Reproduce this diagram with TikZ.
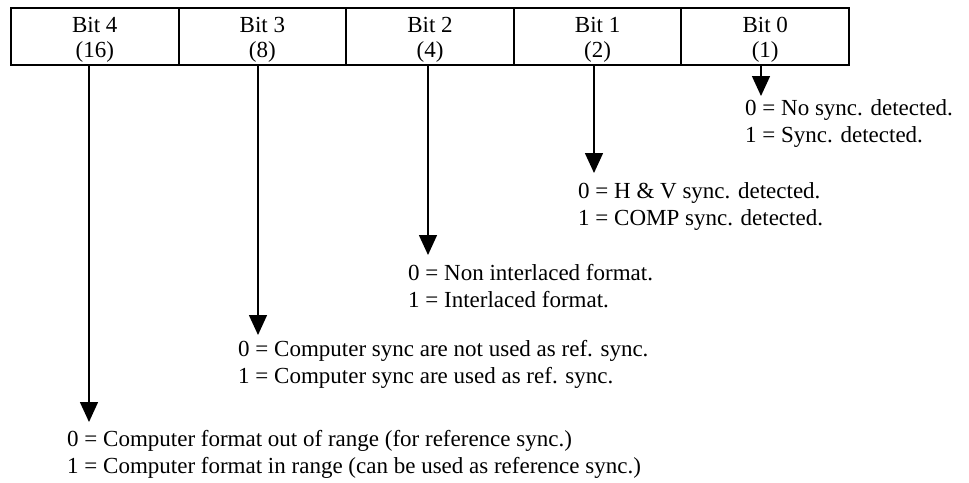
\documentclass[tikz,border=0pt]{standalone}
\usepackage{fontspec}
\setmainfont{Liberation Serif}
\usetikzlibrary{arrows.meta}
\newcommand{\celltop}{\rule{0pt}{21pt}}
\begin{document}
\begin{tikzpicture}[x=1pt,y=-1pt,
  cell/.style={draw,line width=2pt,minimum width=167.6pt,minimum height=57pt,inner sep=0pt,
    align=center,font=\fontsize{23}{25}\selectfont},
  arr/.style={line width=1.5pt,-{Triangle[width=18pt,length=20pt]}},
  lbl/.style={anchor=north west,inner sep=0pt,align=left,font=\fontsize{23}{27}\selectfont}]
\useasboundingbox (0,0) rectangle (969,482);
\node[cell] (b4) at (94.8,36.5) {\celltop Bit 4\\(16)};
\node[cell] (b3) at (262.4,36.5) {\celltop Bit 3\\(8)};
\node[cell] (b2) at (430.0,36.5) {\celltop Bit 2\\(4)};
\node[cell] (b1) at (597.6,36.5) {\celltop Bit 1\\(2)};
\node[cell] (b0) at (765.2,36.5) {\celltop Bit 0\\(1)};
\coordinate (t0) at (761,96);
\coordinate (t1) at (594,173);
\coordinate (t2) at (428,255);
\coordinate (t3) at (258,335);
\coordinate (t4) at (89,422);
\draw[arr] (b0.south -| t0) -- (t0);
\draw[arr] (b1.south -| t1) -- (t1);
\draw[arr] (b2.south -| t2) -- (t2);
\draw[arr] (b3.south -| t3) -- (t3);
\draw[arr] (b4.south -| t4) -- (t4);
\node[lbl] (l0) at (745,99.3) {0 = No sync. detected.\\1 = Sync. detected.};
\node[lbl] (l1) at (578,182.3) {0 = H \& V sync. detected.\\1 = COMP sync. detected.};
\node[lbl] (l2) at (408,264.3) {0 = Non interlaced format.\\1 = Interlaced format.};
\node[lbl] (l3) at (238,340.3) {0 = Computer sync are not used as ref. sync.\\1 = Computer sync are used as ref. sync.};
\node[lbl] (l4) at (67,430.3) {0 = Computer format out of range (for reference sync.)\\1 = Computer format in range (can be used as reference sync.)};
\end{tikzpicture}
\end{document}
